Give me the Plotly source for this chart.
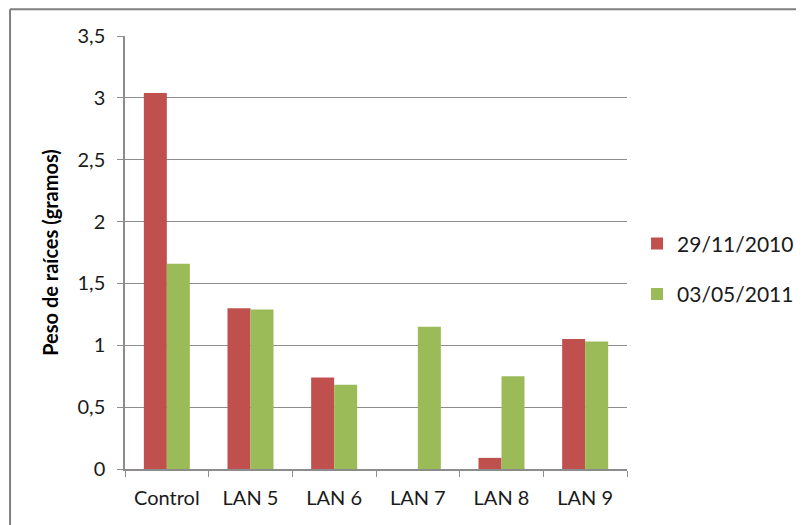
import plotly.graph_objects as go

categories = ["Control", "LAN 5", "LAN 6", "LAN 7", "LAN 8", "LAN 9"]
series_names = ["29/11/2010", "03/05/2011"]
values_2010 = [3.04, 1.30, 0.74, 0.0, 0.09, 1.05]
values_2011 = [1.66, 1.29, 0.68, 1.15, 0.75, 1.03]
colors = ["#C0504D", "#9BBB59"]

FONT = "Lato, 'Open Sans', sans-serif"

fig = go.Figure()
for name, vals, col, grp in zip(series_names, [values_2010, values_2011], colors, ["a", "b"]):
    fig.add_trace(go.Bar(x=categories, y=vals, name=name, marker=dict(color=col, line=dict(width=0)),
                         legendgroup=grp))

axis_col = "#8c8c8c"
fig.update_layout(
    width=804, height=525,
    margin=dict(l=117, r=185, t=28, b=64, autoexpand=False),
    paper_bgcolor="white", plot_bgcolor="white",
    separators=",.",
    barmode="group", bargap=0.45, bargroupgap=0,
    font=dict(family=FONT, size=20, color="#1a1a1a"),
    showlegend=True,
    legend=dict(x=1.02, y=0.462, xanchor="left", yanchor="middle",
                traceorder="grouped", tracegroupgap=20, itemwidth=30,
                font=dict(family=FONT, size=21, color="#1a1a1a")),
    xaxis=dict(showline=True, linecolor=axis_col, linewidth=1.5, ticks="outside",
               tickson="boundaries", ticklen=6, tickcolor=axis_col, showgrid=False,
               tickfont=dict(size=20), ticklabelstandoff=10),
    yaxis=dict(range=[0, 3.5], dtick=0.5, tick0=0, showline=True, linecolor=axis_col,
               linewidth=1.5, ticks="outside", ticklen=6, tickcolor=axis_col,
               showgrid=True, gridcolor=axis_col, gridwidth=1.2, zeroline=False,
               tickfont=dict(size=20), ticklabelstandoff=8,
               title=dict(text="<b>Peso de raíces (gramos)</b>",
                          font=dict(size=20, color="#000000"), standoff=14)),
    shapes=[
        dict(type="line", xref="paper", yref="paper", x0=-0.229, x1=-0.229, y0=-0.3, y1=1.062,
             line=dict(color="#7f7f7f", width=2)),
        dict(type="line", xref="paper", yref="paper", x0=-0.229, x1=1.5, y0=1.062, y1=1.062,
             line=dict(color="#7f7f7f", width=2)),
    ],
)

fig.write_html("out.html")
